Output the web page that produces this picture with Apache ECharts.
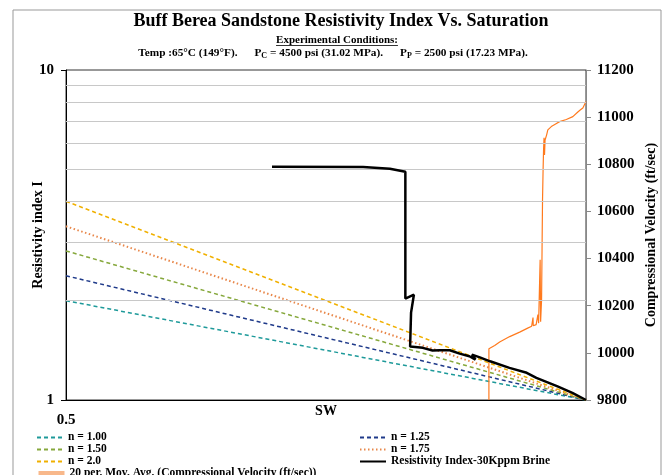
<!DOCTYPE html>
<html><head><meta charset="utf-8">
<script src="https://cdn.jsdelivr.net/npm/echarts@6/dist/echarts.min.js"></script>
<style>html,body{margin:0;padding:0;background:#fff}#c{width:668px;height:475px}</style>
</head><body><div id="c"></div>
<script>
// Saturation end points of the Archie reference lines
const swEnds = [0.5, 1.0];
const n100 = [2.0, 1.0];
const n125 = [2.38, 1.0];
const n150 = [2.83, 1.0];
const n175 = [3.36, 1.0];
const n200 = [4.0, 1.0];

// Measured resistivity index (30 Kppm brine)
const riSw = [0.658, 0.743, 0.770, 0.786, 0.786, 0.795, 0.792, 0.791, 0.8045, 0.815, 0.823, 0.834, 0.845, 0.856, 0.863, 0.859, 0.868, 0.880, 0.903, 0.924, 0.936, 0.962, 0.982, 1.0];
const riI  = [5.09, 5.08, 5.02, 4.92, 2.03, 2.085, 1.84, 1.452, 1.439, 1.412, 1.415, 1.415, 1.382, 1.357, 1.326, 1.373, 1.347, 1.310, 1.251, 1.209, 1.167, 1.101, 1.051, 1.0];

// 20 per. moving average of compressional velocity (ft/sec)
const velSw = [0.8786, 0.8786, 0.8854, 0.8913, 0.9033, 0.9154, 0.9252, 0.9301, 0.9318, 0.9321, 0.9357, 0.9379, 0.9388, 0.9407, 0.9413, 0.9425, 0.9431, 0.9437, 0.9444, 0.9450, 0.9456, 0.9462, 0.9469, 0.9488, 0.9504, 0.9548, 0.9603, 0.9654, 0.9741, 0.9826, 0.9892, 0.9927, 0.9958, 1.0];
const vel   = [9800, 10017, 10031, 10046, 10069, 10088, 10105, 10113, 10150, 10115, 10120, 10162, 10126, 10395, 10132, 10225, 10437, 10649, 10776, 10861, 10912, 10840, 10903, 10924, 10946, 10960, 10971, 10981, 10990, 11002, 11022, 11031, 11039, 11066];

// Minor log gridlines of the resistivity index axis
const gridI = [2, 3, 4, 5, 6, 7, 8, 9];

const zip = (a, b) => a.map((v, i) => [v, b[i]]);
const FONT = '"Liberation Serif","Times New Roman",serif';
const velName = '20 per. Mov. Avg. (Compressional Velocity (ft/sec))';
const riName = 'Resistivity Index-30Kppm Brine';

const chart = echarts.init(document.getElementById('c'));

const mc = document.createElement('canvas').getContext('2d');
mc.font = 'bold 11px ' + FONT;
const ecW = mc.measureText('Experimental Conditions:').width;

function nLine(name, vals, color, type, width) {
  return {
    name, type: 'line', data: zip(swEnds, vals), symbol: 'none', z: 3,
    itemStyle: { color },
    lineStyle: { color, width: width || 1.5, type }
  };
}

const legendText = { fontFamily: FONT, fontWeight: 'bold', fontSize: 11.5, color: '#000' };
function leg(item, left, top) {
  return { orient: 'horizontal', left, top, itemWidth: 26, itemHeight: 8, itemGap: 4, padding: 0,
    textStyle: legendText, itemStyle: { opacity: 0 }, data: [item] };
}

const sp = '      ';
chart.setOption({
  animation: false,
  backgroundColor: '#fff',
  textStyle: { fontFamily: FONT },
  grid: { left: 66, right: 82, top: 70, bottom: 75, show: true, borderColor: '#333', borderWidth: 1, outerBoundsMode: 'none', containLabel: false },
  graphic: [
    { type: 'rect', shape: { x: 13, y: 10, width: 648, height: 480 }, style: { fill: null, stroke: '#999', lineWidth: 1 }, z: -1 },
    { type: 'text', x: 341, y: 21, style: { text: 'Buff Berea Sandstone Resistivity Index Vs. Saturation', font: 'bold 18px ' + FONT, fill: '#000', textAlign: 'center', textVerticalAlign: 'middle' } },
    { type: 'text', x: 337, y: 40, style: { text: 'Experimental Conditions:', font: 'bold 11px ' + FONT, fill: '#000', textAlign: 'center', textVerticalAlign: 'middle' } },
    { type: 'line', shape: { x1: 337 - ecW / 2, y1: 45.5, x2: 337 + ecW / 2, y2: 45.5 }, style: { stroke: '#000', lineWidth: 0.8 } },
    { type: 'text', x: 333, y: 53, style: {
        text: 'Temp :65°C (149°F).' + sp + 'P{s|C} = 4500 psi (31.02 MPa).' + sp + 'P{s|P} = 2500 psi (17.23 MPa).',
        font: 'bold 11.3px ' + FONT, fill: '#000', textAlign: 'center', textVerticalAlign: 'middle',
        rich: { s: { fontSize: 8, fontWeight: 'bold', fontFamily: FONT, padding: [5, 0, 0, 0] } }
    } }
  ],
  legend: [
    leg('n = 1.00', 36, 431.5),
    leg('n = 1.50', 36, 443.5),
    leg('n = 2.0', 36, 455.5),
    leg({ name: velName, lineStyle: { color: '#F8B88B', width: 5, type: 'solid' } }, 36, 467.5),
    leg('n = 1.25', 359, 431.5),
    leg('n = 1.75', 359, 443.5),
    leg(riName, 359, 455.5)
  ],
  xAxis: {
    type: 'log', min: 0.5, max: 1, logBase: 10,
    name: 'SW', nameLocation: 'middle', nameGap: 4, nameMoveOverlap: false,
    nameTextStyle: { fontFamily: FONT, fontWeight: 'bold', fontSize: 14, color: '#000', verticalAlign: 'top' },
    axisLine: { lineStyle: { color: '#000', width: 1 } },
    axisTick: { show: false },
    splitLine: { show: false },
    axisLabel: { margin: 13, fontFamily: FONT, fontWeight: 'bold', fontSize: 15, color: '#000',
      formatter: v => (Math.abs(v - 0.5) < 1e-6 ? '0.5' : '') }
  },
  yAxis: [
    {
      type: 'log', min: 1, max: 10, logBase: 10, position: 'left',
      name: 'Resistivity index I', nameLocation: 'middle', nameGap: 21, nameMoveOverlap: false,
      nameTextStyle: { fontFamily: FONT, fontWeight: 'bold', fontSize: 14, color: '#000' },
      axisLine: { show: true, lineStyle: { color: '#000', width: 1 } },
      axisTick: { show: true, length: 5, lineStyle: { color: '#000' } },
      splitLine: { show: false },
      axisLabel: { margin: 12, fontFamily: FONT, fontWeight: 'bold', fontSize: 15, color: '#000' }
    },
    {
      type: 'value', min: 9800, max: 11200, interval: 200, position: 'right',
      name: 'Compressional Velocity (ft/sec)', nameLocation: 'middle', nameGap: 58, nameMoveOverlap: false,
      nameTextStyle: { fontFamily: FONT, fontWeight: 'bold', fontSize: 14, color: '#000' },
      axisLine: { show: true, lineStyle: { color: '#888', width: 1 } },
      axisTick: { show: true, length: 5, lineStyle: { color: '#888' } },
      splitLine: { show: false },
      axisLabel: { margin: 11, fontFamily: FONT, fontWeight: 'bold', fontSize: 15, color: '#000',
        formatter: v => String(v) }
    }
  ],
  series: [
    { name: 'grid', type: 'line', data: [], symbol: 'none', z: 1, silent: true,
      markLine: { silent: true, symbol: 'none', label: { show: false }, animation: false,
        lineStyle: { color: '#C8C8C8', width: 1, type: 'solid' },
        data: gridI.map(v => ({ yAxis: v })) } },
    nLine('n = 1.00', n100, '#1E9A9A', [4, 3]),
    nLine('n = 1.25', n125, '#1F3A8A', [4, 3]),
    nLine('n = 1.50', n150, '#86A83C', [4, 3]),
    nLine('n = 1.75', n175, '#E8874A', [1.5, 2.5], 2),
    nLine('n = 2.0', n200, '#F0B000', [4, 3]),
    { name: velName, type: 'line', yAxisIndex: 1, data: zip(velSw, vel), symbol: 'none', z: 4,
      itemStyle: { color: '#FF7A1E' }, lineStyle: { color: '#FF7A1E', width: 1.2 } },
    { name: riName, type: 'line', data: zip(riSw, riI), symbol: 'none', z: 5,
      itemStyle: { color: '#000' }, lineStyle: { color: '#000', width: 2.5 } }
  ]
});
</script></body></html>
